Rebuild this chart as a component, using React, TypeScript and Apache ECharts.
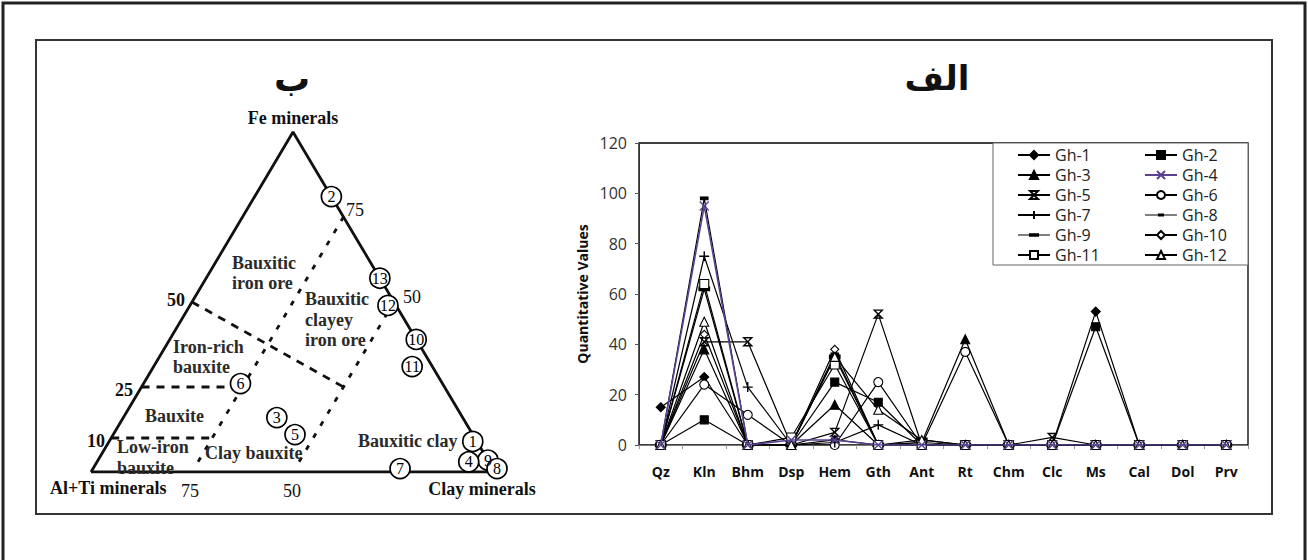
import React, { useEffect, useRef } from 'react';
import * as echarts from 'echarts';

// ---------- Right chart data ----------
const categories = ['Qz', 'Kln', 'Bhm', 'Dsp', 'Hem', 'Gth', 'Ant', 'Rt', 'Chm', 'Clc', 'Ms', 'Cal', 'Dol', 'Prv'];
const gh1 = [15, 27, 0, 0, 2, 0, 0, 0, 0, 0, 53, 0, 0, 0];
const gh2 = [0, 10, 0, 0, 25, 17, 0, 0, 0, 0, 47, 0, 0, 0];
const gh3 = [0, 38, 0, 0, 16, 0, 1, 42, 0, 0, 0, 0, 0, 0];
const gh4 = [0, 95, 0, 2, 2, 0, 0, 0, 0, 0, 0, 0, 0, 0];
const gh5 = [0, 41, 41, 0, 5, 52, 0, 0, 0, 3, 0, 0, 0, 0];
const gh6 = [0, 24, 12, 0, 0, 25, 0, 37, 0, 0, 0, 0, 0, 0];
const gh7 = [0, 75, 23, 0, 1, 8, 0, 0, 0, 0, 0, 0, 0, 0];
const gh8 = [0, 98, 0, 0, 36, 0, 1, 0, 0, 0, 0, 0, 0, 0];
const gh9 = [0, 62, 0, 0, 35, 0, 2, 0, 0, 0, 0, 0, 0, 0];
const gh10 = [0, 44, 0, 0, 38, 0, 0, 0, 0, 0, 0, 0, 0, 0];
const gh11 = [0, 64, 0, 3, 32, 0, 0, 0, 0, 0, 0, 0, 0, 0];
const gh12 = [0, 49, 0, 0, 35, 14, 2, 0, 0, 0, 0, 0, 0, 0];
const seriesNames = ['Gh-1', 'Gh-2', 'Gh-3', 'Gh-4', 'Gh-5', 'Gh-6', 'Gh-7', 'Gh-8', 'Gh-9', 'Gh-10', 'Gh-11', 'Gh-12'];
const seriesValues = [gh1, gh2, gh3, gh4, gh5, gh6, gh7, gh8, gh9, gh10, gh11, gh12];
const yMin = 0;
const yMax = 120;
const yInterval = 20;

// ---------- Ternary diagram data (Al+Ti, Clay, Fe in %) ----------
const sampleIds = ['1', '2', '3', '9', '4', '5', '6', '7', '8', '10', '11', '12', '13'];
const sampleAl = [1, 0, 46, 0, 5, 44, 50, 23, 0, 0, 5, 2, 0];
const sampleClay = [90, 19, 38, 96.5, 92, 45, 24, 76, 100, 61, 64, 49, 43];
const sampleFe = [9, 81, 16, 3.5, 3, 11, 26, 1, 1, 39, 31, 49, 57];
const triangleVertices = [[100, 0, 0], [0, 100, 0], [0, 0, 100], [100, 0, 0]];
const clay25Line = [[72, 25, 3], [0, 25, 75]];
const clay50Line = [[47, 50, 3], [0, 50, 50]];
const fe25Line = [[75, 0, 25], [50, 25, 25]];
const fe50Line = [[50, 0, 50], [25, 50, 25]];
const fe10Line = [[90, 0, 10], [65, 25, 10]];

const toXY = (p: number[]) => [p[1] + p[2] / 2, p[2]];

const SERIF = '"Liberation Serif", "Times New Roman", serif';
const SANS = '"Open Sans", sans-serif';

const X_PATH = 'path://M0 0L10 10M10 0L0 10';
const HOUR_PATH = 'path://M0 0L10 0L0 10L10 10Z';
const PLUS_PATH = 'path://M5 0L5 10M0 5L10 5';
const DASH8_ICON = 'path://M0 4.6H32V5.4H0Z M13 3.6H19V6.4H13Z';
const DASH9_ICON = 'path://M0 4.6H32V5.4H0Z M11 3.3H21V6.7H11Z';

const styles: any[] = [
  { symbol: 'diamond', symbolSize: 9, color: '#000', fill: '#000' },
  { symbol: 'rect', symbolSize: 8, color: '#000', fill: '#000' },
  { symbol: 'triangle', symbolSize: 9, color: '#000', fill: '#000' },
  { symbol: X_PATH, symbolSize: 9, color: '#5a4290', fill: 'none', bw: 1.4 },
  { symbol: HOUR_PATH, symbolSize: 8, color: '#000', fill: 'none', bw: 1.4 },
  { symbol: 'circle', symbolSize: 9, color: '#000', fill: '#fff' },
  { symbol: PLUS_PATH, symbolSize: 10, color: '#000', fill: 'none', bw: 1.4 },
  { symbol: 'rect', symbolSize: [7, 3], color: '#000', fill: '#000' },
  { symbol: 'rect', symbolSize: [10, 4], color: '#000', fill: '#000' },
  { symbol: 'diamond', symbolSize: 8, color: '#000', fill: '#fff' },
  { symbol: 'rect', symbolSize: 9, color: '#000', fill: '#fff' },
  { symbol: 'triangle', symbolSize: 9, color: '#000', fill: '#fff' },
];

const legendItem = (name: string) => {
  if (name === 'Gh-8') return { name, icon: DASH8_ICON, itemStyle: { color: '#000', borderWidth: 0 } };
  if (name === 'Gh-9') return { name, icon: DASH9_ICON, itemStyle: { color: '#000', borderWidth: 0 } };
  return { name };
};

function buildOption() {
  const lineSeries = seriesNames.map((name, i) => {
    const s = styles[i];
    return {
      name,
      type: 'line',
      xAxisIndex: 1,
      yAxisIndex: 1,
      data: seriesValues[i],
      symbol: s.symbol,
      symbolSize: s.symbolSize,
      showAllSymbol: true,
      lineStyle: { color: s.color, width: i === 3 ? 1.6 : 1.2 },
      itemStyle: { color: s.fill, borderColor: s.color, borderWidth: s.bw ?? 1.1 },
      z: i === 3 ? 3 : 2,
    };
  });

  const dashed = (name: string, pts: number[][], type: number[]) => ({
    name,
    type: 'line',
    xAxisIndex: 0,
    yAxisIndex: 0,
    data: pts.map(toXY),
    symbol: 'none',
    lineStyle: { color: '#111', width: 2.8, type },
    z: 1,
  });

  const regionText = (text: string, x: number, y: number, lh = 20) => ({
    type: 'text',
    x,
    y,
    style: {
      text,
      font: `bold 18px ${SERIF}`,
      fill: '#2a2a2a',
      textAlign: 'left',
      textVerticalAlign: 'top',
      lineHeight: lh,
    },
    z: 5,
  });

  const plainText = (text: string, x: number, y: number, font: string, align = 'center') => ({
    type: 'text',
    x,
    y,
    style: { text, font, fill: '#111', textAlign: align, textVerticalAlign: 'middle' },
    z: 5,
  });

  const legendCommon = {
    orient: 'vertical',
    top: 145,
    itemWidth: 32,
    itemHeight: 10,
    itemGap: 0,
    padding: 0,
    textStyle: { fontFamily: SANS, fontSize: 16, lineHeight: 20, color: '#222' },
  };

  return {
    animation: false,
    backgroundColor: '#fff',
    grid: [
      { left: 91, top: 132, width: 404, height: 340, show: false },
      { left: 639, top: 143, width: 609, height: 302, show: true, borderColor: '#000', borderWidth: 1.3, backgroundColor: 'transparent' },
    ],
    xAxis: [
      { type: 'value', gridIndex: 0, min: 0, max: 100, show: false },
      {
        type: 'category',
        gridIndex: 1,
        data: categories,
        boundaryGap: true,
        axisLine: { lineStyle: { color: '#777', width: 1 } },
        axisTick: { show: true, length: 4, lineStyle: { color: '#999' } },
        axisLabel: { margin: 19, fontFamily: SANS, fontWeight: 'bold', fontSize: 14, color: '#111' },
      },
    ],
    yAxis: [
      { type: 'value', gridIndex: 0, min: 0, max: 100, show: false },
      {
        type: 'value',
        gridIndex: 1,
        min: yMin,
        max: yMax,
        interval: yInterval,
        axisLine: { show: true, lineStyle: { color: '#333', width: 1 } },
        axisTick: { show: true, length: 4, lineStyle: { color: '#555' } },
        splitLine: { show: false },
        axisLabel: { margin: 12, fontFamily: SANS, fontSize: 16, color: '#333' },
        name: 'Quantitative Values',
        nameLocation: 'middle',
        nameRotate: 90,
        nameGap: 50,
        nameTextStyle: { fontFamily: SANS, fontWeight: 'bold', fontSize: 14, color: '#111' },
      },
    ],
    legend: [
      { ...legendCommon, left: 1017, data: ['Gh-1', 'Gh-3', 'Gh-5', 'Gh-7', 'Gh-9', 'Gh-11'].map(legendItem) },
      { ...legendCommon, left: 1144, data: ['Gh-2', 'Gh-4', 'Gh-6', 'Gh-8', 'Gh-10', 'Gh-12'].map(legendItem) },
    ],
    graphic: [
      { type: 'polyline', shape: { points: [[3, 560], [3, 3], [1305, 3], [1305, 560]] }, style: { stroke: '#222', lineWidth: 3, fill: 'none' }, z: 0 },
      { type: 'rect', shape: { x: 36, y: 40, width: 1236, height: 474 }, style: { stroke: '#333', lineWidth: 2, fill: 'none' }, z: 0 },
      { type: 'rect', shape: { x: 993, y: 143, width: 255, height: 122 }, style: { stroke: '#666', lineWidth: 1, fill: '#fff' }, z: 0 },
      plainText('ب', 292, 78, `bold 36px "DejaVu Sans", sans-serif`),
      plainText('الف', 937, 78, `bold 34px "DejaVu Sans", sans-serif`),
      plainText('Fe minerals', 293, 118, `bold 18px ${SERIF}`),
      plainText('Al+Ti minerals', 50, 488, `bold 18px ${SERIF}`, 'left'),
      plainText('Clay minerals', 482, 489, `bold 18px ${SERIF}`),
      plainText('75', 190, 491, `18px ${SERIF}`),
      plainText('50', 292, 491, `18px ${SERIF}`),
      plainText('75', 355, 210, `18px ${SERIF}`),
      plainText('50', 412, 297, `18px ${SERIF}`),
      plainText('50', 176, 300, `bold 18px ${SERIF}`),
      plainText('25', 124, 390, `bold 18px ${SERIF}`),
      plainText('10', 96, 441, `bold 18px ${SERIF}`),
      regionText('Bauxitic\niron ore', 232, 253),
      regionText('Bauxitic\nclayey\niron ore', 305, 289, 20.5),
      regionText('Iron-rich\nbauxite', 173, 337),
      regionText('Bauxite', 145, 406),
      regionText('Low-iron\nbauxite', 117, 436, 21),
      regionText('Clay bauxite', 205, 443),
      regionText('Bauxitic clay', 358, 431),
    ],
    series: [
      {
        name: 'triangle',
        type: 'line',
        xAxisIndex: 0,
        yAxisIndex: 0,
        data: triangleVertices.map(toXY),
        symbol: 'none',
        lineStyle: { color: '#111', width: 2.8 },
        z: 2,
      },
      dashed('clay25', clay25Line, [5, 9]),
      dashed('clay50', clay50Line, [5, 9]),
      dashed('fe25', fe25Line, [8, 7]),
      dashed('fe50', fe50Line, [8, 7]),
      dashed('fe10', fe10Line, [8, 7]),
      {
        name: 'samples',
        type: 'scatter',
        xAxisIndex: 0,
        yAxisIndex: 0,
        clip: false,
        data: sampleIds.map((id, i) => ({ name: id, value: toXY([sampleAl[i], sampleClay[i], sampleFe[i]]) })),
        symbol: 'circle',
        symbolSize: 20,
        itemStyle: { color: '#fff', borderColor: '#000', borderWidth: 1.7, opacity: 1 },
        label: { show: true, position: 'inside', formatter: '{b}', fontFamily: SERIF, fontSize: 16, color: '#000' },
        z: 4,
      },
      ...lineSeries,
    ],
  };
}

export default function App() {
  const ref = useRef<HTMLDivElement>(null);
  useEffect(() => {
    if (!ref.current) return;
    const chart = echarts.init(ref.current, undefined, { renderer: 'svg' });
    chart.setOption(buildOption() as any);
    return () => chart.dispose();
  }, []);
  return <div ref={ref} style={{ position: 'fixed', left: 0, top: 0, width: 1308, height: 560, background: '#fff' }} />;
}
